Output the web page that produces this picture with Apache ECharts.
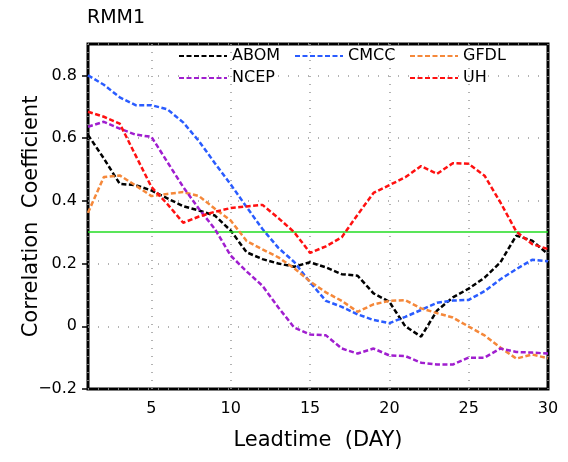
<!DOCTYPE html>
<html>
<head>
<meta charset="utf-8">
<script src="https://cdn.jsdelivr.net/npm/echarts@6/dist/echarts.min.js"></script>
<style>
  html, body { margin: 0; padding: 0; background: #fff; }
  #chart { width: 568px; height: 462px; }
</style>
</head>
<body>
<div id="chart"></div>
<script>
// lead time in days
const days = [1, 2, 3, 4, 5, 6, 7, 8, 9, 10, 11, 12, 13, 14, 15, 16, 17, 18, 19, 20, 21, 22, 23, 24, 25, 26, 27, 28, 29, 30]

const abom = [0.61, 0.535, 0.454, 0.45, 0.433, 0.408, 0.383, 0.369, 0.353, 0.305, 0.236, 0.214, 0.2, 0.19, 0.204, 0.188, 0.166, 0.161, 0.105, 0.078, 0.0, -0.033, 0.05, 0.092, 0.12, 0.155, 0.204, 0.289, 0.273, 0.23]
const cmcc = [0.8, 0.77, 0.73, 0.705, 0.705, 0.692, 0.65, 0.59, 0.52, 0.452, 0.38, 0.31, 0.25, 0.205, 0.14, 0.081, 0.062, 0.038, 0.02, 0.01, 0.03, 0.052, 0.075, 0.082, 0.084, 0.112, 0.15, 0.182, 0.212, 0.207]
const gfdl = [0.362, 0.476, 0.481, 0.449, 0.415, 0.422, 0.428, 0.415, 0.375, 0.337, 0.272, 0.245, 0.22, 0.185, 0.143, 0.108, 0.081, 0.046, 0.07, 0.081, 0.083, 0.057, 0.042, 0.028, -0.001, -0.029, -0.068, -0.103, -0.09, -0.102]
const ncep = [0.636, 0.652, 0.63, 0.611, 0.604, 0.524, 0.444, 0.374, 0.31, 0.225, 0.175, 0.129, 0.06, -0.004, -0.026, -0.029, -0.071, -0.087, -0.071, -0.093, -0.095, -0.116, -0.122, -0.122, -0.1, -0.1, -0.071, -0.082, -0.084, -0.087]
const uh = [0.684, 0.668, 0.646, 0.545, 0.444, 0.39, 0.33, 0.35, 0.365, 0.377, 0.382, 0.387, 0.345, 0.3, 0.234, 0.255, 0.284, 0.356, 0.425, 0.45, 0.475, 0.511, 0.486, 0.52, 0.518, 0.48, 0.395, 0.302, 0.262, 0.246]

const threshold = 0.3

const models = [
  { name: 'ABOM', data: abom, color: '#000000', left: 178, top: 57 },
  { name: 'CMCC', data: cmcc, color: '#2a5cff', left: 294, top: 57 },
  { name: 'GFDL', data: gfdl, color: '#f5883a', left: 409, top: 57 },
  { name: 'NCEP', data: ncep, color: '#a01ecf', left: 178, top: 79 },
  { name: 'UH', data: uh, color: '#ff1010', left: 409, top: 79 }
]

const font = 'DejaVu Sans'
const chart = echarts.init(document.getElementById('chart'))

chart.setOption({
  animation: false,
  title: {
    text: 'RMM1',
    left: 87,
    top: 9,
    padding: 0,
    textStyle: { fontFamily: font, fontSize: 19, fontWeight: 'normal', color: '#000' }
  },
  legend: models.map(m => ({
    data: [m.name],
    left: m.left,
    top: m.top - 9,
    padding: 0,
    itemWidth: 48,
    itemHeight: 18,
    itemStyle: { opacity: 0 },
    textStyle: { fontFamily: font, fontSize: 16, color: '#000' }
  })),
  grid: {
    left: 88,
    right: 20,
    top: 44,
    bottom: 73,
    show: true,
    borderColor: '#000',
    borderWidth: 3,
    backgroundColor: 'transparent'
  },
  xAxis: {
    type: 'value',
    min: 1,
    max: 30,
    splitNumber: 5,
    name: 'Leadtime  (DAY)',
    nameLocation: 'middle',
    nameGap: 41,
    nameMoveOverlap: false,
    nameTextStyle: { fontFamily: font, fontSize: 21, color: '#000' },
    axisLine: { show: false },
    axisTick: { show: false },
    axisLabel: {
      showMinLabel: false,
      margin: 12,
      fontFamily: font,
      fontSize: 16,
      color: '#000'
    },
    splitLine: {
      show: true,
      lineStyle: { color: '#999', type: [1, 7], width: 1.5 }
    }
  },
  yAxis: {
    type: 'value',
    min: -0.2,
    max: 0.9,
    interval: 0.2,
    name: 'Correlation  Coefficient',
    nameLocation: 'middle',
    nameGap: 46,
    nameMoveOverlap: false,
    nameTextStyle: { fontFamily: font, fontSize: 21, color: '#000' },
    axisLine: { show: false },
    axisTick: { show: true, length: 6, lineStyle: { color: '#000', width: 1.5 } },
    axisLabel: {
      showMaxLabel: false,
      margin: 11,
      fontFamily: font,
      fontSize: 16,
      color: '#000',
      formatter: v => {
        if (Math.abs(v) < 1e-9) return '0'
        return v.toFixed(1).replace('-', '\u2212')
      }
    },
    splitLine: {
      show: true,
      lineStyle: { color: '#999', type: [1, 9], width: 1.5 }
    }
  },
  series: models.map((m, i) => ({
    name: m.name,
    type: 'line',
    data: days.map((d, j) => [d, m.data[j]]),
    symbol: 'none',
    color: m.color,
    lineStyle: { color: m.color, width: 2.5, type: [5, 2.5] },
    z: 3 + i,
    markLine: i === 0 ? {
      silent: true,
      symbol: 'none',
      label: { show: false },
      lineStyle: { color: '#22dd22', width: 1.5, type: 'solid' },
      data: [{ yAxis: threshold }]
    } : undefined
  }))
})
</script>
</body>
</html>
